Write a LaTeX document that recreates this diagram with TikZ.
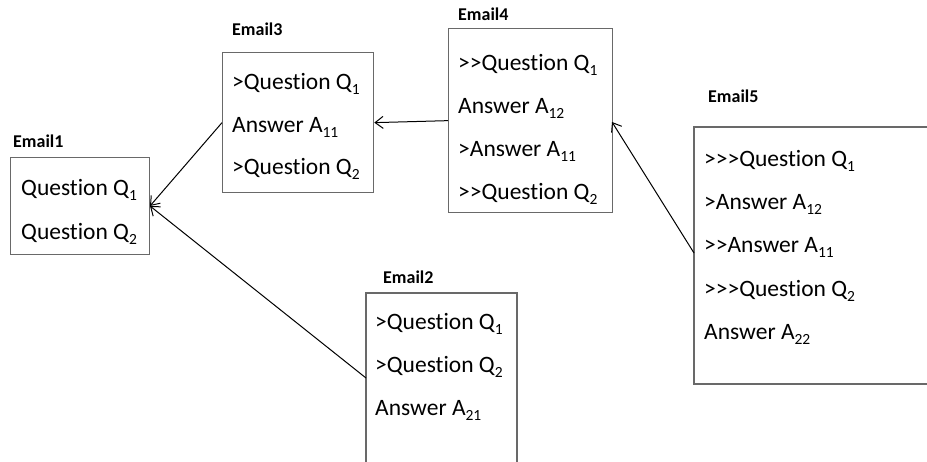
\documentclass[tikz,border=0pt]{standalone}
\usepackage{fontspec}
\setmainfont{Carlito}[Ligatures=NoCommon]
\usetikzlibrary{arrows.meta}
\definecolor{boxgray}{RGB}{105,105,105}
\newcommand{\gtq}{>\kern0pt}
\newcommand{\sbx}[1]{\raisebox{-5pt}{\fontsize{15.5}{18}\selectfont #1}}
\begin{document}
\begin{tikzpicture}[x=1pt,y=-1pt,
  box/.style={draw=boxgray, line width=1.3pt, inner sep=0pt, anchor=north west},
  txt/.style={anchor=base west, inner sep=0pt, font=\fontsize{23.5}{28}\selectfont},
  lbl/.style={anchor=base west, inner sep=0pt, font=\fontsize{18}{22}\selectfont\bfseries},
  link/.style={draw=black, line width=1pt, -{Straight Barb[length=8pt,width=12pt]}}]
\useasboundingbox (0,0) rectangle (927,462);

% Email1
\node[lbl] (l1) at (13,148) {Email1};
\node[box, minimum width=139pt, minimum height=97pt] (e1) at (10,157) {};
\node[txt] (e1a) at (21,196) {Question Q\sbx{1}};
\node[txt] (e1b) at (21,240) {Question Q\sbx{2}};

% Email3
\node[lbl] (l3) at (232,36) {Email3};
\node[box, minimum width=151pt, minimum height=140pt] (e3) at (222,52) {};
\node[txt] (e3a) at (232,90) {\gtq Question Q\sbx{1}};
\node[txt] (e3b) at (232,133) {Answer A\sbx{11}};
\node[txt] (e3c) at (232,175) {\gtq Question Q\sbx{2}};

% Email4
\node[lbl] (l4) at (458,21) {Email4};
\node[box, minimum width=164pt, minimum height=184pt] (e4) at (448,28) {};
\node[txt] (e4a) at (458,71) {\gtq\gtq Question Q\sbx{1}};
\node[txt] (e4b) at (458,114) {Answer A\sbx{12}};
\node[txt] (e4c) at (458,157) {\gtq Answer A\sbx{11}};
\node[txt] (e4d) at (458,200) {\gtq\gtq Question Q\sbx{2}};

% Email5 (right side open, runs off the picture)
\node[lbl] (l5) at (708,103) {Email5};
\coordinate (e5tl) at (694,127);
\coordinate (e5bl) at (694,384);
\coordinate (e5tr) at (929,127);
\coordinate (e5br) at (929,384);
\draw[draw=boxgray, line width=1.3pt] (e5tr) -- (e5tl) -- (e5bl) -- (e5br);
\coordinate (e5w) at (694,253);
\node[txt] (e5a) at (704,167) {\gtq\gtq\gtq Question Q\sbx{1}};
\node[txt] (e5b) at (704,210) {\gtq Answer A\sbx{12}};
\node[txt] (e5c) at (704,253) {\gtq\gtq Answer A\sbx{11}};
\node[txt] (e5d) at (704,297) {\gtq\gtq\gtq Question Q\sbx{2}};
\node[txt] (e5e) at (704,340) {Answer A\sbx{22}};

% Email2 (bottom open, runs off the picture)
\node[lbl] (l2) at (383,284) {Email2};
\coordinate (e2tl) at (366,293);
\coordinate (e2tr) at (517,293);
\coordinate (e2bl) at (366,464);
\coordinate (e2br) at (517,464);
\draw[draw=boxgray, line width=1.3pt] (e2bl) -- (e2tl) -- (e2tr) -- (e2br);
\coordinate (e2w) at (366,378);
\node[txt] (e2a) at (375,330) {\gtq Question Q\sbx{1}};
\node[txt] (e2b) at (375,373) {\gtq Question Q\sbx{2}};
\node[txt] (e2c) at (375,416) {Answer A\sbx{21}};

% connectors
\coordinate (e1in) at (150,206);
\coordinate (e4in) at (612,122);
\draw[link] (e3.west) -- (e1in);
\draw[link] (e2w) -- (e1in);
\draw[link] (e4.west) -- (e3.east);
\draw[link] (e5w) -- (e4in);
\end{tikzpicture}
\end{document}
